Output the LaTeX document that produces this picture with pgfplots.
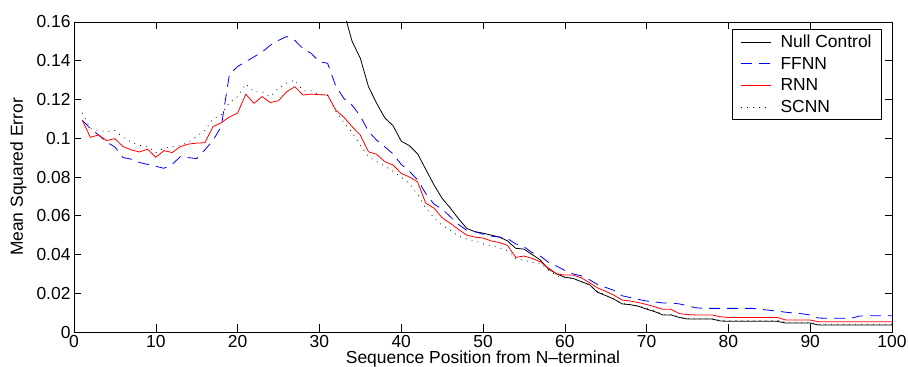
\documentclass[border=0pt]{standalone}
\usepackage{fontspec}
\setmainfont{Liberation Sans}
\usepackage{pgfplots}
\usepackage{pgfplotstable}
\pgfplotsset{compat=1.18}

\pgfplotstableread{
x y
31 0.200
32 0.185
33 0.165
34 0.150
35 0.1413
36 0.1266
37 0.118
38 0.1105
39 0.1065
40 0.0985
41 0.0962
42 0.092
43 0.0840
44 0.076
45 0.069
46 0.0640
47 0.0585
48 0.0535
49 0.0518
50 0.051
51 0.050
52 0.049
53 0.047
54 0.0432
55 0.0428
56 0.040
57 0.0372
58 0.0325
59 0.030
60 0.0283
61 0.0277
62 0.026
63 0.0245
64 0.0205
65 0.0188
66 0.017
67 0.0145
68 0.0141
69 0.0133
70 0.0118
71 0.0105
72 0.0088
73 0.0088
74 0.0075
75 0.0067
76 0.0067
77 0.0067
78 0.0067
79 0.0057
80 0.0055
81 0.0055
82 0.0055
83 0.0055
84 0.0055
85 0.0055
86 0.0055
87 0.0046
88 0.0046
89 0.0046
90 0.0046
91 0.0036
92 0.0036
93 0.0036
94 0.0036
95 0.0036
96 0.0036
97 0.0036
98 0.0036
99 0.0036
100 0.0036
}\nullctl

\pgfplotstableread{
x y
1 0.1094
2 0.105
3 0.1017
4 0.098
5 0.0955
6 0.090
7 0.0892
8 0.0875
9 0.0865
10 0.0855
11 0.0845
12 0.0865
13 0.0905
14 0.090
15 0.0895
16 0.094
17 0.099
18 0.106
19 0.133
20 0.137
21 0.1395
22 0.142
23 0.1445
24 0.148
25 0.1505
26 0.1525
27 0.1505
28 0.1462
29 0.1438
30 0.1395
31 0.1387
32 0.127
33 0.1205
34 0.117
35 0.1115
36 0.1035
37 0.099
38 0.0955
39 0.092
40 0.0865
41 0.083
42 0.0785
43 0.0715
44 0.066
45 0.0635
46 0.0595
47 0.0555
48 0.0525
49 0.0518
50 0.0505
51 0.0495
52 0.049
53 0.0482
54 0.0455
55 0.044
56 0.041
57 0.0392
58 0.036
59 0.034
60 0.0318
61 0.030
62 0.029
63 0.027
64 0.0245
65 0.023
66 0.0215
67 0.0187
68 0.0178
69 0.0168
70 0.016
71 0.0155
72 0.015
73 0.015
74 0.0145
75 0.0135
76 0.0125
77 0.0122
78 0.0122
79 0.0122
80 0.0122
81 0.0122
82 0.0122
83 0.0122
84 0.0117
85 0.0112
86 0.0108
87 0.0102
88 0.0098
89 0.0094
90 0.0088
91 0.0072
92 0.0071
93 0.0071
94 0.0071
95 0.0071
96 0.0082
97 0.0084
98 0.0084
99 0.0084
100 0.0084
}\ffnn

\pgfplotstableread{
x y
1 0.1094
2 0.1005
3 0.1017
4 0.0988
5 0.0998
6 0.0957
7 0.094
8 0.0929
9 0.0943
10 0.0902
11 0.0936
12 0.0926
13 0.0957
14 0.097
15 0.0975
16 0.0977
17 0.106
18 0.108
19 0.111
20 0.113
21 0.1227
22 0.118
23 0.1215
24 0.1184
25 0.1194
26 0.124
27 0.1266
28 0.1223
29 0.1228
30 0.1225
31 0.1223
32 0.1146
33 0.1108
34 0.106
35 0.1017
36 0.093
37 0.0917
38 0.0879
39 0.0862
40 0.0819
41 0.0800
42 0.0775
43 0.0665
44 0.064
45 0.059
46 0.0561
47 0.053
48 0.0500
49 0.049
50 0.0485
51 0.047
52 0.0462
53 0.0447
54 0.0385
55 0.0392
56 0.038
57 0.0363
58 0.033
59 0.030
60 0.0294
61 0.0294
62 0.028
63 0.0255
64 0.0228
65 0.021
66 0.019
67 0.0165
68 0.0160
69 0.0152
70 0.0142
71 0.013
72 0.0117
73 0.0117
74 0.0095
75 0.009
76 0.0088
77 0.0088
78 0.0088
79 0.0079
80 0.0075
81 0.0075
82 0.0075
83 0.0075
84 0.0075
85 0.0075
86 0.0075
87 0.0062
88 0.0062
89 0.0062
90 0.0062
91 0.0053
92 0.0053
93 0.0053
94 0.0053
95 0.0053
96 0.0053
97 0.0053
98 0.0053
99 0.0053
100 0.0053
}\rnn

\pgfplotstableread{
x y
1 0.113
2 0.105
3 0.104
4 0.1034
5 0.104
6 0.1005
7 0.098
8 0.0963
9 0.0958
10 0.0926
11 0.0948
12 0.0957
13 0.0962
14 0.098
15 0.101
16 0.104
17 0.110
18 0.112
19 0.1185
20 0.1215
21 0.128
22 0.124
23 0.124
24 0.1215
25 0.1258
26 0.1285
27 0.130
28 0.1245
29 0.1245
30 0.1223
31 0.1223
32 0.114
33 0.108
34 0.103
35 0.0965
36 0.0905
37 0.088
38 0.0855
39 0.083
40 0.080
41 0.0765
42 0.071
43 0.064
44 0.059
45 0.055
46 0.0526
47 0.0495
48 0.048
49 0.047
50 0.0455
51 0.0445
52 0.0435
53 0.042
54 0.038
55 0.037
56 0.036
57 0.0355
58 0.032
59 0.029
60 0.028
61 0.0275
62 0.026
63 0.024
64 0.021
65 0.019
66 0.017
67 0.0148
68 0.0142
69 0.0135
70 0.0122
71 0.011
72 0.0092
73 0.009
74 0.0078
75 0.0070
76 0.0068
77 0.0068
78 0.0068
79 0.006
80 0.006
81 0.006
82 0.006
83 0.006
84 0.006
85 0.006
86 0.006
87 0.005
88 0.005
89 0.005
90 0.005
91 0.004
92 0.004
93 0.004
94 0.004
95 0.004
96 0.004
97 0.004
98 0.004
99 0.004
100 0.004
}\scnn

\newcommand{\ff}{\fontsize{17.5}{21}\selectfont}

\begin{document}
\begin{tikzpicture}
\begin{axis}[
  at={(74bp,35bp)}, anchor=origin,
  scale only axis, width=818bp, height=310bp,
  xmin=0, xmax=100, ymin=0, ymax=0.16,
  xtick={0,10,...,100},
  ytick={0,0.02,0.04,0.06,0.08,0.1,0.12,0.14,0.16},
  scaled y ticks=false,
  yticklabel style={/pgf/number format/fixed, /pgf/number format/precision=2},
  /pgf/number format/assume math mode=true,
  tick label style={font=\ff},
  label style={font=\ff},
  tick align=inside,
  major tick length=7.5bp,
  tick style={black, line width=0.6bp},
  axis line style={black, line width=0.8bp},
  xlabel={Sequence Position from N--terminal},
  ylabel={Mean Squared Error},
  xlabel style={at={(axis description cs:0.5,-0.1)}, anchor=base},
  ylabel style={at={(axis description cs:-0.068,0.5)}, anchor=center},
  legend style={at={(axis description cs:0.9878,0.977)}, anchor=north east,
    font=\ff, draw=black, line width=0.8bp, inner xsep=8bp, inner ysep=3.5bp,
    row sep=4bp, column sep=7bp, cells={anchor=west}},
  legend cell align=left,
  legend image code/.code={\draw[#1] (0bp,0bp) -- (30bp,0bp);},
]
\addplot[black, line width=0.8bp] table {\nullctl};
\addlegendentry{Null Control}
\addplot[blue, line width=0.8bp, dash pattern=on 11bp off 7bp] table {\ffnn};
\addlegendentry{FFNN}
\addplot[red, line width=0.8bp] table {\rnn};
\addlegendentry{RNN}
\addplot[black, line width=0.8bp, dash pattern=on 0.8bp off 5.2bp] table {\scnn};
\addlegendentry{SCNN}
\end{axis}
\pgfresetboundingbox
\path[use as bounding box] (0,0) rectangle (908bp,367bp);
\end{tikzpicture}
\end{document}
